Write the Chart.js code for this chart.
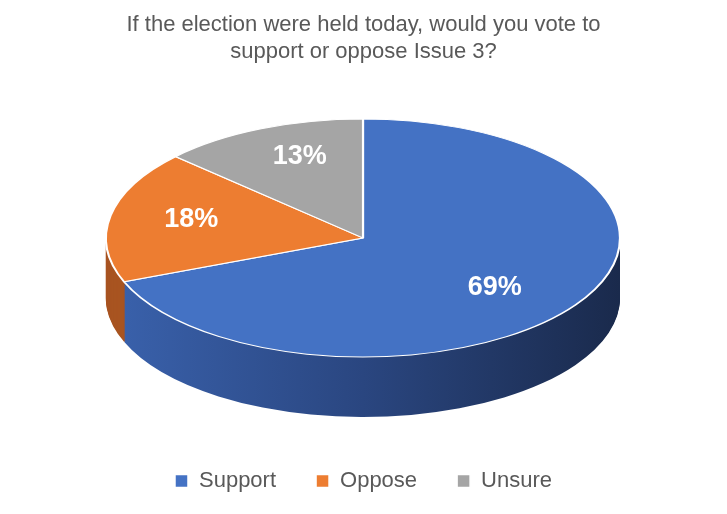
<!DOCTYPE html>
<html><head><meta charset="utf-8">
<script src="https://cdn.jsdelivr.net/npm/chart.js@4/dist/chart.umd.min.js"></script>
<style>body{margin:0;background:#fff}#w{width:727px;height:514px;position:relative}</style>
</head><body><div id="w"><canvas id="c"></canvas></div>
<script>
const categories = ['Support', 'Oppose', 'Unsure'];
const values = [69, 18, 13];
const colors = ['#4472C4', '#ED7D31', '#A5A5A5'];
const sideColors = ['#2d4d8a', '#a85420', '#777777'];
const CX = 363, CY = 238, RX = 257, RY = 119, DEPTH = 60;

function setT(ctx, chart, extra) {
  const a = chart.getDatasetMeta(0).data[0];
  const r0 = a.outerRadius;
  ctx.translate(CX, CY + extra);
  ctx.scale(RX / r0, RY / r0);
  ctx.translate(-a.x, -a.y);
}
const pie3d = {
  id: 'pie3d',
  beforeDatasetsDraw(chart) {
    const ctx = chart.ctx, meta = chart.getDatasetMeta(0);
    const a0 = meta.data[0];
    for (let d = DEPTH; d >= 1; d--) {
      ctx.save();
      setT(ctx, chart, d);
      const g = ctx.createLinearGradient(a0.x - a0.outerRadius, 0, a0.x + a0.outerRadius, 0);
      g.addColorStop(0, '#3a62ad'); g.addColorStop(0.5, '#2a4680'); g.addColorStop(1, '#1a2a4c');
      meta.data.forEach((arc, i) => {
        const bg = arc.options.backgroundColor, bw = arc.options.borderWidth;
        arc.options.backgroundColor = i === 0 ? g : sideColors[i];
        arc.options.borderWidth = 0;
        arc.draw(ctx);
        arc.options.backgroundColor = bg; arc.options.borderWidth = bw;
      });
      ctx.restore();
    }
    ctx.save();
    setT(ctx, chart, 0);
  },
  afterDatasetsDraw(chart) {
    const ctx = chart.ctx;
    ctx.restore();
    const meta = chart.getDatasetMeta(0);
    ctx.save();
    ctx.fillStyle = '#fff';
    ctx.font = 'bold 27px "Liberation Sans", sans-serif';
    ctx.textAlign = 'center'; ctx.textBaseline = 'middle';
    const frac = [0.62, 0.68, 0.62];
    meta.data.forEach((arc, i) => {
      const m = (arc.startAngle + arc.endAngle) / 2;
      const x = CX + Math.cos(m) * RX * frac[i];
      const y = CY + Math.sin(m) * RY * frac[i] * 1.2;
      ctx.fillText(values[i] + '%', x, y);
    });
    ctx.restore();
  }
};

new Chart(document.getElementById('c'), {
  type: 'pie',
  data: { labels: categories, datasets: [{ data: values, backgroundColor: colors, borderColor: '#fff', borderWidth: 1.5 }] },
  options: {
    responsive: true, maintainAspectRatio: false, animation: false,
    events: [],
    layout: { padding: { top: 0, bottom: 12 } },
    plugins: {
      title: { display: true, text: ['If the election were held today, would you vote to', 'support or oppose Issue 3?'],
        color: '#595959', font: { size: 22, family: '"Liberation Sans", sans-serif', weight: 'normal' }, padding: { top: 12, bottom: 10 }, lineHeight: 1.5 },
      legend: { position: 'bottom', labels: { color: '#595959', font: { size: 22, family: '"Liberation Sans", sans-serif' }, boxWidth: 13, boxHeight: 13, padding: 40 } },
      tooltip: { enabled: false }
    }
  },
  plugins: [pie3d]
});
</script></body></html>
